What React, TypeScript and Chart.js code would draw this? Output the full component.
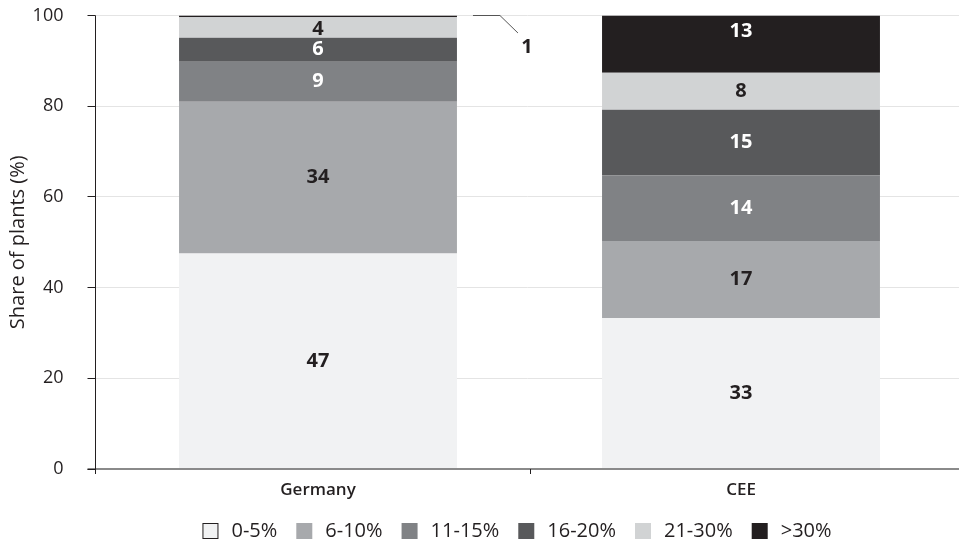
import React, { useEffect, useRef } from 'react';
import { Chart, registerables } from 'chart.js';

Chart.register(...registerables);

// ---- data -------------------------------------------------------------
const categories = ['Germany', 'CEE'];
const seriesNames = ['0-5%', '6-10%', '11-15%', '16-20%', '21-30%', '>30%'];
const seriesColors = ['#f1f2f3', '#a7a9ac', '#808285', '#58595b', '#d1d3d4', '#231f20'];
const labelColors = ['#231f20', '#231f20', '#ffffff', '#ffffff', '#231f20', '#ffffff'];

// share of plants (%) per band
const band0to5 = [47.5, 33.3];
const band6to10 = [33.5, 17.0];
const band11to15 = [8.8, 14.4];
const band16to20 = [5.3, 14.5];
const band21to30 = [4.5, 8.2];
const bandOver30 = [0.4, 12.6];

// printed value labels
const text0to5 = ['47', '33'];
const text6to10 = ['34', '17'];
const text11to15 = ['9', '14'];
const text16to20 = ['6', '15'];
const text21to30 = ['4', '8'];
const textOver30 = ['1', '13'];

const yTicks = [0, 20, 40, 60, 80, 100];
const yTitle = 'Share of plants (%)';

const seriesValues = [band0to5, band6to10, band11to15, band16to20, band21to30, bandOver30];
const seriesTexts = [text0to5, text6to10, text11to15, text16to20, text21to30, textOver30];

// ---- styling ---------------------------------------------------------
const FONT = '"Open Sans", "Noto Sans", sans-serif';
const INK = '#231f20';

const decor = {
  id: 'decor',
  beforeDatasetsDraw(chart: any) {
    const { ctx, chartArea: a, scales } = chart;
    const y = scales.y;
    const axisX = a.left - 11;
    ctx.save();
    ctx.strokeStyle = '#e4e4e4';
    ctx.lineWidth = 1;
    yTicks.forEach((v) => {
      const py = Math.round(y.getPixelForValue(v) - 0.5) + 0.5;
      ctx.beginPath();
      ctx.moveTo(axisX, py);
      ctx.lineTo(chart.width, py);
      ctx.stroke();
    });
    ctx.restore();
  },
  afterDatasetsDraw(chart: any) {
    const { ctx, chartArea: a, scales } = chart;
    const x = scales.x;
    const y = scales.y;
    const axisX = a.left - 11;
    ctx.save();

    // x axis line
    ctx.strokeStyle = '#8a8a8a';
    ctx.lineWidth = 2;
    ctx.beginPath();
    ctx.moveTo(axisX - 8, a.bottom);
    ctx.lineTo(chart.width, a.bottom);
    ctx.stroke();

    // y axis line and ticks
    ctx.strokeStyle = INK;
    ctx.lineWidth = 1;
    ctx.beginPath();
    ctx.moveTo(axisX, a.top);
    ctx.lineTo(axisX, a.bottom + 5);
    ctx.stroke();
    yTicks.forEach((v) => {
      const py = Math.round(y.getPixelForValue(v) - 0.5) + 0.5;
      ctx.beginPath();
      ctx.moveTo(axisX - 8, py);
      ctx.lineTo(axisX, py);
      ctx.stroke();
    });
    // category divider tick
    const midX = Math.round((x.getPixelForValue(0) + x.getPixelForValue(1)) / 2) + 0.5;
    ctx.beginPath();
    ctx.moveTo(midX, a.bottom);
    ctx.lineTo(midX, a.bottom + 5);
    ctx.stroke();

    // y tick labels
    ctx.fillStyle = INK;
    ctx.font = `400 18px ${FONT}`;
    ctx.textAlign = 'right';
    ctx.textBaseline = 'middle';
    yTicks.forEach((v) => {
      ctx.fillText(String(v), axisX - 32, y.getPixelForValue(v));
    });

    // y title
    ctx.save();
    ctx.translate(18, (a.top + a.bottom) / 2);
    ctx.rotate(-Math.PI / 2);
    ctx.textAlign = 'center';
    ctx.font = `400 20px ${FONT}`;
    ctx.fillText(yTitle, 0, 0);
    ctx.restore();

    // category labels
    ctx.font = `600 17px ${FONT}`;
    ctx.textAlign = 'center';
    categories.forEach((c, i) => {
      ctx.fillText(c, x.getPixelForValue(i), a.bottom + 21);
    });

    // value labels
    ctx.font = `700 20px ${FONT}`;
    ctx.textAlign = 'center';
    chart.data.datasets.forEach((ds: any, di: number) => {
      const meta = chart.getDatasetMeta(di);
      meta.data.forEach((el: any, ci: number) => {
        const txt = seriesTexts[di][ci];
        const h = Math.abs(el.base - el.y);
        if (h < 8) {
          // leader-line annotation for tiny segment
          const right = el.x + el.width / 2;
          const ty = el.y;
          ctx.strokeStyle = '#555555';
          ctx.lineWidth = 1;
          ctx.beginPath();
          ctx.moveTo(right + 16, ty);
          ctx.lineTo(right + 43, ty);
          ctx.lineTo(right + 61, ty + 17.5);
          ctx.stroke();
          ctx.fillStyle = INK;
          ctx.fillText(txt, right + 70, ty + 31.5);
          return;
        }
        let cy = (el.base + el.y) / 2;
        if (di === seriesNames.length - 1 && h > 40) cy = el.y + 16;
        if (h < 24) cy += 1.5;
        ctx.fillStyle = labelColors[di];
        ctx.fillText(txt, el.x, cy);
      });
    });

    // legend
    ctx.font = `400 20px ${FONT}`;
    const box = 16;
    const gapText = 13;
    const gapItem = 19;
    const widths = seriesNames.map((n) => ctx.measureText(n).width);
    const total = widths.reduce((s, w) => s + box + gapText + w, 0) + gapItem * (seriesNames.length - 1);
    let lx = (a.left + a.right) / 2 - 12.5 - total / 2;
    const ly = a.bottom + 62;
    ctx.textAlign = 'left';
    seriesNames.forEach((n, i) => {
      ctx.fillStyle = seriesColors[i];
      ctx.fillRect(lx, ly - box / 2, box, box);
      if (i === 0) {
        ctx.strokeStyle = INK;
        ctx.lineWidth = 1;
        ctx.strokeRect(lx + 0.5, ly - box / 2 + 0.5, box - 1, box - 1);
      }
      ctx.fillStyle = INK;
      ctx.fillText(n, lx + box + gapText, ly);
      lx += box + gapText + widths[i] + gapItem;
    });

    ctx.restore();
  },
};

export default function App() {
  const canvasRef = useRef<HTMLCanvasElement | null>(null);

  useEffect(() => {
    if (!canvasRef.current) return;
    const chart = new Chart(canvasRef.current, {
      type: 'bar',
      data: {
        labels: categories,
        datasets: seriesNames.map((name, i) => ({
          label: name,
          data: seriesValues[i],
          backgroundColor: seriesColors[i],
          borderWidth: 0,
          barPercentage: 0.657,
          categoryPercentage: 1,
          stack: 'plants',
        })),
      },
      options: {
        responsive: false,
        animation: false,
        layout: { padding: { left: 106.5, right: 6.5, top: 15.5, bottom: 72 } },
        plugins: { legend: { display: false }, tooltip: { enabled: false } },
        scales: {
          x: { display: false, stacked: true, offset: true },
          y: { display: false, stacked: true, min: 0, max: 100 },
        },
      },
      plugins: [decor],
    });
    return () => chart.destroy();
  }, []);

  return (
    <div style={{ position: 'fixed', left: 0, top: 0, width: 959, height: 541, background: '#fff' }}>
      <canvas ref={canvasRef} width={959} height={541} style={{ display: 'block' }} />
    </div>
  );
}
